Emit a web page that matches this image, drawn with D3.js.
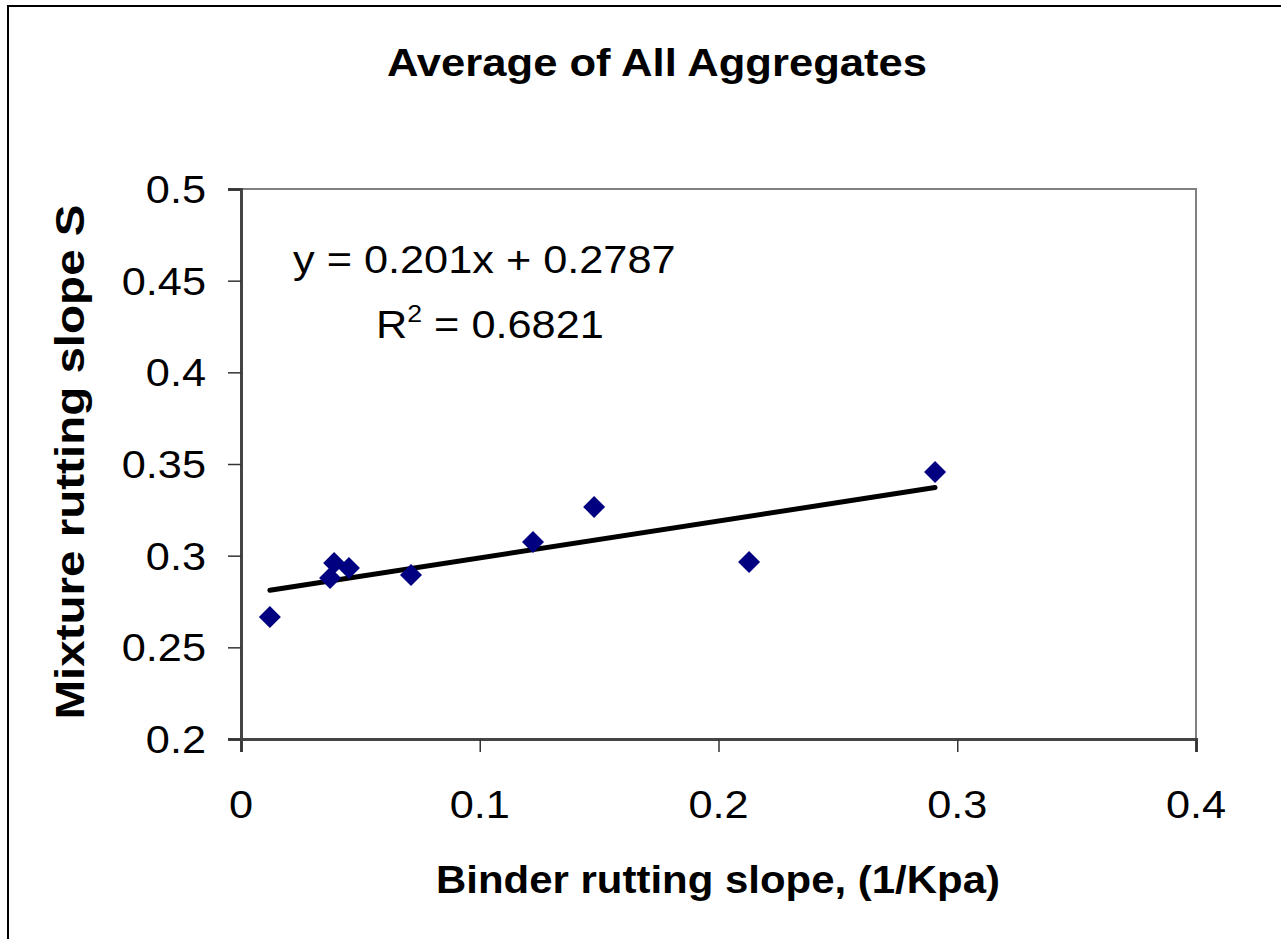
<!DOCTYPE html>
<html>
<head>
<meta charset="utf-8">
<script src="https://cdn.jsdelivr.net/npm/d3@7"></script>
<style>
  body { margin: 0; background: #fff; }
  text { font-family: "Liberation Sans", Arial, sans-serif; fill: #000; }
</style>
</head>
<body>
<div id="chart"></div>
<script>
// data
const binderSlope = [0.0121, 0.0373, 0.0390, 0.0452, 0.0712, 0.1223, 0.1479, 0.2128, 0.2907];
const mixtureSlope = [0.2666, 0.2878, 0.2960, 0.2933, 0.2895, 0.3075, 0.3266, 0.2966, 0.3457];
const xTicks = [0, 0.1, 0.2, 0.3, 0.4];
const yTicks = [0.2, 0.25, 0.3, 0.35, 0.4, 0.45, 0.5];
const trendSlope = 0.201, trendIntercept = 0.2787, rSquared = 0.6821;

const W = 1281, H = 939;
const svg = d3.select("#chart").append("svg")
    .attr("width", W)
    .attr("height", H);

// outer chart frame (runs off the right/bottom edge)
svg.append("rect")
    .attr("x", 8).attr("y", 6)
    .attr("width", W + 20).attr("height", H + 20)
    .attr("fill", "#fff")
    .attr("stroke", "#000")
    .attr("stroke-width", 2);

const x = d3.scaleLinear().domain([0, 0.4]).range([241, 1196]);
const y = d3.scaleLinear().domain([0.2, 0.5]).range([739, 189]);

// stretched text helper, the original has wide glyphs
const sx = 1.11;
function label(px, py, str, size, weight, anchor) {
    return svg.append("text")
        .attr("transform", "translate(" + px + "," + py + ") scale(" + sx + ",1)")
        .attr("text-anchor", anchor || "middle")
        .style("font-size", size + "px")
        .style("font-weight", weight || "normal")
        .text(str);
}

// plot border: top/right light grey
svg.append("path")
    .attr("d", "M" + x(0) + "," + y(0.5) + "H" + x(0.4) + "V" + y(0.2))
    .attr("fill", "none")
    .attr("stroke", "#808080")
    .attr("stroke-width", 2);

// axes
const xAxis = d3.axisBottom(x).tickValues(xTicks).tickSize(13).tickFormat("");
const yAxis = d3.axisLeft(y).tickValues(yTicks).tickSize(13).tickFormat("");

const gx = svg.append("g")
    .attr("transform", "translate(0," + y(0.2) + ")")
    .call(xAxis);
const gy = svg.append("g")
    .attr("transform", "translate(" + x(0) + ",0)")
    .call(yAxis);
[gx, gy].forEach(g => {
    g.select(".domain").attr("stroke", "#444").attr("stroke-width", 3);
    g.selectAll(".tick line").attr("stroke", "#333").attr("stroke-width", 1.5);
});

// tick labels
xTicks.forEach(v => label(x(v), 818, d3.format("")(v), 39));
yTicks.forEach(v => label(206, y(v) + 14, d3.format("")(v), 39, "normal", "end"));

// trendline
const xMin = d3.min(binderSlope), xMax = d3.max(binderSlope);
svg.append("line")
    .attr("x1", x(xMin)).attr("y1", y(trendSlope * xMin + trendIntercept))
    .attr("x2", x(xMax)).attr("y2", y(trendSlope * xMax + trendIntercept))
    .attr("stroke", "#000")
    .attr("stroke-width", 5)
    .attr("stroke-linecap", "round");

// data points: navy diamonds
const diamond = d3.symbol().type(d3.symbolSquare).size(242);
svg.selectAll(".pt")
    .data(binderSlope)
    .enter()
    .append("path")
    .attr("class", "pt")
    .attr("d", diamond)
    .attr("transform", (d, i) => "translate(" + x(d) + "," + y(mixtureSlope[i]) + ") rotate(45)")
    .attr("fill", "#000080");

// equation + R^2
label(293, 273, "y = " + trendSlope + "x + " + trendIntercept, 39, "normal", "start");
const r2 = label(376, 338, "", 39, "normal", "start");
r2.append("tspan").text("R");
r2.append("tspan").attr("dy", -16).style("font-size", "24px").text("2");
r2.append("tspan").attr("dy", 16).text(" = " + rSquared);

// titles
svg.append("text")
    .attr("x", 657).attr("y", 76)
    .attr("text-anchor", "middle")
    .attr("textLength", 540).attr("lengthAdjust", "spacingAndGlyphs")
    .style("font-size", "39px").style("font-weight", "bold")
    .text("Average of All Aggregates");

svg.append("text")
    .attr("x", 718).attr("y", 893)
    .attr("text-anchor", "middle")
    .attr("textLength", 564).attr("lengthAdjust", "spacingAndGlyphs")
    .style("font-size", "39px").style("font-weight", "bold")
    .text("Binder rutting slope, (1/Kpa)");

svg.append("text")
    .attr("transform", "translate(84,462) rotate(-90)")
    .attr("text-anchor", "middle")
    .attr("textLength", 515).attr("lengthAdjust", "spacingAndGlyphs")
    .style("font-size", "40px").style("font-weight", "bold")
    .text("Mixture rutting slope S");
</script>
</body>
</html>
